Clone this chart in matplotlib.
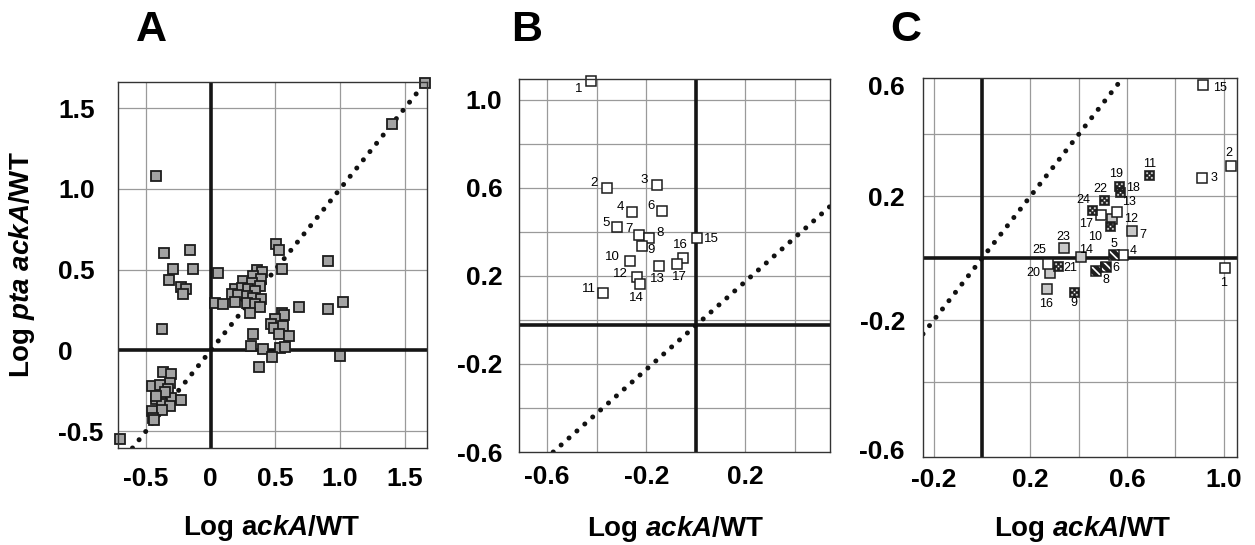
import numpy as np
import matplotlib
matplotlib.use('Agg')
import matplotlib.pyplot as plt
from matplotlib.path import Path

plt.rcParams['font.family'] = ['Liberation Sans', 'DejaVu Sans']
plt.rcParams['font.weight'] = 'bold'
plt.rcParams['mathtext.fontset'] = 'custom'
plt.rcParams['mathtext.rm'] = 'Liberation Sans:bold'
plt.rcParams['mathtext.it'] = 'Liberation Sans:bold:italic'
plt.rcParams['mathtext.bf'] = 'Liberation Sans:bold'
plt.rcParams['hatch.color'] = 'white'
plt.rcParams['hatch.linewidth'] = 1.2

# --- panel A: todos los genes ---
a_x = [-0.426, -0.364, -0.163, -0.290, -0.138, -0.321, -0.230, -0.189, -0.217, -0.375,
       0.504, 0.527, 0.909, 0.548, 0.053,
       0.355, 0.394, 0.329, 0.388, 0.252, 0.316, 0.380, 0.187, 0.239, 0.290, 0.342,
       0.162, 0.213, 0.278, 0.329, 0.386, 0.035, 0.092, 0.187, 0.278, 0.342, 0.380, 0.303,
       0.682, 0.904, 1.020,
       0.548, 0.566, 0.497, 0.463, 0.489, 0.556, 0.530, 0.605, 0.329, 0.309, 0.401,
       0.535, 0.574, 0.471, 0.375, 0.999,
       1.657, 1.399,
       -0.367, -0.308, -0.316, -0.457, -0.393, -0.329, -0.426, -0.367, -0.308, -0.230,
       -0.380, -0.316, -0.457, -0.380, -0.445, -0.437, -0.702, -0.350, -0.420]
a_y = [1.080, 0.605, 0.621, 0.506, 0.506, 0.434, 0.395, 0.378, 0.347, 0.134,
       0.661, 0.620, 0.553, 0.502, 0.477,
       0.498, 0.487, 0.460, 0.440, 0.430, 0.419, 0.398, 0.378, 0.384, 0.378, 0.368,
       0.347, 0.343, 0.336, 0.322, 0.316, 0.295, 0.289, 0.297, 0.295, 0.285, 0.268, 0.229,
       0.268, 0.258, 0.297,
       0.233, 0.219, 0.192, 0.165, 0.141, 0.151, 0.103, 0.087, 0.099, 0.027, 0.006,
       0.012, 0.020, -0.039, -0.103, -0.035,
       1.659, 1.400,
       -0.132, -0.145, -0.200, -0.221, -0.215, -0.242, -0.304, -0.283, -0.293, -0.308,
       -0.335, -0.345, -0.376, -0.372, -0.417, -0.434, -0.547, -0.260, -0.280]

# --- panel B ---
b_labels = ['1', '2', '3', '4', '5', '6', '7', '8', '9', '10', '11', '12', '13', '14', '15', '16', '17']
b_x = [-0.424, -0.359, -0.158, -0.258, -0.319, -0.135, -0.229, -0.187, -0.218,
       -0.265, -0.373, -0.236, -0.148, -0.225, 0.004, -0.050, -0.077]
b_y = [1.085, 0.599, 0.614, 0.489, 0.421, 0.495, 0.388, 0.371, 0.335,
       0.270, 0.121, 0.195, 0.247, 0.164, 0.371, 0.283, 0.253]
b_zero = -0.025

# --- panel C ---
c_labels = ['1', '2', '3', '4', '5', '6', '7', '8', '9', '10', '11', '12', '13',
            '14', '15', '16', '17', '18', '19', '20', '21', '22', '23', '24', '25']
c_x = [1.004, 1.030, 0.910, 0.585, 0.547, 0.511, 0.622, 0.473, 0.381, 0.530, 0.692, 0.538, 0.558,
       0.410, 0.914, 0.267, 0.494, 0.570, 0.565, 0.281, 0.314, 0.506, 0.338, 0.454, 0.272]
c_y = [-0.032, 0.298, 0.258, 0.010, 0.012, -0.029, 0.089, -0.042, -0.109, 0.104, 0.270, 0.127, 0.149,
       0.005, 0.560, -0.100, 0.141, 0.213, 0.235, -0.048, -0.025, 0.188, 0.035, 0.156, -0.019]
c_kind = ['open', 'open', 'open', 'open', 'hatch', 'hatch', 'gray', 'hatch', 'dots', 'dots', 'dots', 'gray', 'open',
          'gray', 'open', 'gray', 'open', 'dots', 'dots', 'gray', 'dots', 'dots', 'gray', 'dots', 'open']

# desplazamiento de las etiquetas (pixeles)
b_off = [(-12, -8), (-13, 5), (-13, 5), (-11, 5), (-11, 4), (-11, 5), (-10, 6), (11, 5), (9, -4),
         (-18, 4), (-14, 4), (-17, 3), (-2, -13), (-4, -14), (15, -1), (-3, 13), (3, -13)]
c_off = [(-1, -15), (-2, 13), (12, 0), (10, 4), (0, 11), (10, -1), (11, -4), (10, -9), (0, -11),
         (-15, -11), (0, 11), (19, 0), (12, 10), (5, 7), (17, -3), (0, -15), (-15, -9), (13, 4),
         (-2, 12), (-17, 0), (12, -2), (-4, 11), (0, 11), (-8, 10), (-8, 14)]


def marcador_dado():
    cuadro = Path([(-1, -1), (1, -1), (1, 1), (-1, 1), (-1, -1)],
                  [Path.MOVETO, Path.LINETO, Path.LINETO, Path.LINETO, Path.CLOSEPOLY])
    ang = np.linspace(0, -2 * np.pi, 13)
    agujeros = []
    for cx, cy in [(-0.48, -0.48), (0.48, -0.48), (0, 0), (-0.48, 0.48), (0.48, 0.48)]:
        v = np.column_stack([cx + 0.24 * np.cos(ang), cy + 0.24 * np.sin(ang)])
        agujeros.append(Path(v, [Path.MOVETO] + [Path.LINETO] * 11 + [Path.CLOSEPOLY]))
    return Path.make_compound_path(cuadro, *agujeros)


def preparar(ax, xlim, ylim, xgrid, ygrid, xticks, xlab, yticks, ylab, xpad, ypad):
    ax.set_xlim(xlim)
    ax.set_ylim(ylim)
    ax.set_xticks(xticks)
    ax.set_xticklabels(xlab)
    ax.set_yticks(yticks)
    ax.set_yticklabels(ylab)
    for g in xgrid:
        ax.axvline(g, color='#9a9a9a', lw=0.9, zorder=1)
    for g in ygrid:
        ax.axhline(g, color='#9a9a9a', lw=0.9, zorder=1)
    ax.tick_params(which='both', length=0, labelsize=19)
    ax.tick_params(axis='x', pad=xpad)
    ax.tick_params(axis='y', pad=ypad)
    for s in ax.spines.values():
        s.set_color('#333333')
        s.set_linewidth(1.0)
        s.set_zorder(6)


punteado = dict(color='#111111', lw=3.6, ls=(0, (0.01, 2.1)), dash_capstyle='round', zorder=3)
gruesa = dict(color='#151515', lw=2.6, zorder=2)

fig = plt.figure(figsize=(12.55, 5.45), dpi=100)
W, H = 1255, 545

# A
axA = fig.add_axes([118 / W, 1 - 448 / H, 309 / W, 366 / H])
preparar(axA, (-0.717, 1.673), (-0.605, 1.663),
         [-0.5, 0.5, 1.0, 1.5], [-0.5, 0.5, 1.0, 1.5],
         [-0.5, 0, 0.5, 1.0, 1.5], ['-0.5', '0', '0.5', '1.0', '1.5'],
         [-0.5, 0, 0.5, 1.0, 1.5], ['-0.5', '0', '0.5', '1.0', '1.5'], 13.5, 43)
for t in axA.get_yticklabels():
    t.set_ha('left')
axA.axvline(0, **gruesa)
axA.axhline(0, **gruesa)
axA.axline((0, 0), slope=1, **punteado)
axA.plot(a_x, a_y, 's', ms=7.6, mfc='#a3a3a3', mec='#1c1c1c', mew=1.3, clip_on=False, zorder=4)

# B
axB = fig.add_axes([519 / W, 1 - 452 / H, 311 / W, 373 / H])
preparar(axB, (-0.713, 0.541), (-0.6, 1.095),
         [-0.6, -0.4, -0.2, 0, 0.2, 0.4], [-0.4, -0.2, 0, 0.2, 0.4, 0.6, 0.8, 1.0],
         [-0.6, -0.2, 0.2], ['-0.6', '-0.2', '0.2'],
         [-0.6, -0.2, 0.2, 0.6, 1.0], ['-0.6', '-0.2', '0.2', '0.6', '1.0'], 9.5, 12)
axB.axvline(0, **gruesa)
axB.axhline(b_zero, **gruesa)
axB.axline((0, b_zero), slope=1, **punteado)
axB.plot(b_x, b_y, 's', ms=7.8, mfc='white', mec='#1c1c1c', mew=1.1, clip_on=False, zorder=4)
for lab, x, y, d in zip(b_labels, b_x, b_y, b_off):
    axB.annotate(lab, (x, y), xytext=d, textcoords='offset pixels', ha='center', va='center',
                 fontsize=9.5, fontweight='normal', zorder=5)

# C
axC = fig.add_axes([923 / W, 1 - 457 / H, 314 / W, 379 / H])
preparar(axC, (-0.244, 1.055), (-0.641, 0.582),
         [-0.2, 0, 0.2, 0.4, 0.6, 0.8, 1.0], [-0.4, -0.2, 0, 0.2, 0.4],
         [-0.2, 0.2, 0.6, 1.0], ['-0.2', '0.2', '0.6', '1.0'],
         [-0.618, -0.2, 0.2, 0.559], ['-0.6', '-0.2', '0.2', '0.6'], 8, 13)
axC.axvline(0, **gruesa)
axC.axhline(0, **gruesa)
axC.axline((0, 0), slope=1, **punteado)

cx = np.array(c_x)
cy = np.array(c_y)
kind = np.array(c_kind)
m = kind == 'gray'
axC.plot(cx[m], cy[m], 's', ms=7.3, mfc='#c8c8c8', mec='#1c1c1c', mew=1.1, clip_on=False, zorder=4)
m = kind == 'open'
axC.plot(cx[m], cy[m], 's', ms=7.3, mfc='white', mec='#1c1c1c', mew=1.1, clip_on=False, zorder=4)
m = kind == 'dots'
axC.plot(cx[m], cy[m], ls='none', marker=marcador_dado(), ms=7.3, mfc='#1e1e1e', mec='#1e1e1e',
         mew=0.4, clip_on=False, zorder=4)
m = kind == 'hatch'
axC.scatter(cx[m], cy[m], s=7.3 ** 2, marker='s', facecolor='#1e1e1e', edgecolor='white',
            linewidths=0, hatch='\\\\\\\\', clip_on=False, zorder=4)
axC.plot(cx[m], cy[m], 's', ms=7.3, mfc='none', mec='#1c1c1c', mew=1.1, clip_on=False, zorder=4.5)
for lab, x, y, d in zip(c_labels, c_x, c_y, c_off):
    axC.annotate(lab, (x, y), xytext=d, textcoords='offset pixels', ha='center', va='center',
                 fontsize=9, fontweight='normal', zorder=5)

# titulos y ejes
for letra, px in [('A', 151), ('B', 527), ('C', 906)]:
    fig.text(px / W, 1 - 41 / H, letra, fontsize=31, fontweight='bold', ha='center', va='baseline')
fig.text(22 / W, 1 - 265 / H, r'Log $pta$ $ackA$/WT', rotation=90, ha='center', va='center', fontsize=20)
fig.text(272 / W, 1 - 528 / H, r'Log a$ckA$/WT', ha='center', va='center', fontsize=20)
fig.text(676 / W, 1 - 529 / H, r'Log $ackA$/WT', ha='center', va='center', fontsize=20)
fig.text(1083 / W, 1 - 529 / H, r'Log $ackA$/WT', ha='center', va='center', fontsize=20)

fig.savefig('out.png', dpi=100)
